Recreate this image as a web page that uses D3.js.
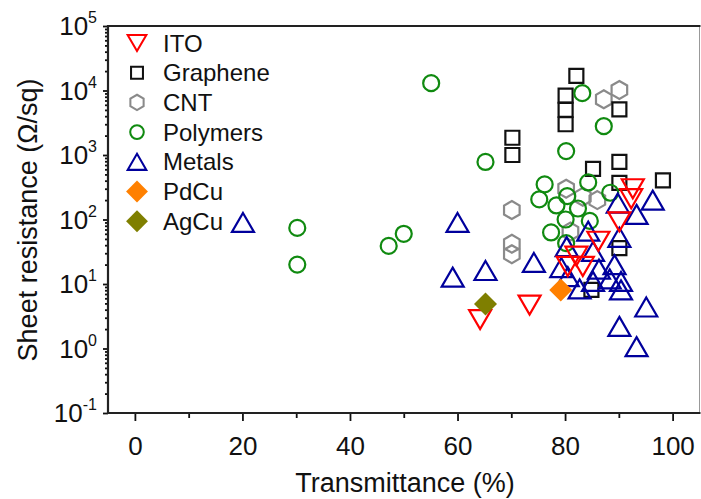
<!DOCTYPE html>
<html>
<head>
<meta charset="utf-8">
<style>
  body { margin: 0; background: #fff; }
  svg text { font-family: "Liberation Sans", Arial, sans-serif; fill: #111; }
</style>
<script src="https://d3js.org/d3.v7.min.js"></script>
</head>
<body>
<svg width="701" height="499"></svg>
<script>
// data: [transmittance %, sheet resistance ohm/sq]
var ito = [[64.2, 2.8], [73.4, 4.7], [80.5, 18.7], [82.1, 27], [83.3, 18.7], [86.2, 46],
           [90.1, 92], [92.3, 210], [92.6, 300]];
var graphene = [[82.1, 16900], [80.1, 8300], [80.1, 5000], [80.1, 3000], [90.1, 5100],
                [70.2, 1850], [70.2, 1000], [85.2, 610], [90.1, 780], [98.2, 405],
                [90.1, 370], [90.1, 36], [84.9, 8.1]];
var cnt = [[90.1, 10200], [87.2, 7300], [80.2, 300], [83.3, 225], [86.0, 200],
           [70.1, 140], [70.1, 42], [70.1, 29], [81.0, 65]];
var polymers = [[30.2, 74], [30.2, 20], [47.2, 39], [50.0, 60], [55.1, 13000], [65.2, 780],
                [83.2, 9100], [87.2, 2800], [80.2, 1150], [76.2, 350], [84.3, 375], [88.4, 260],
                [75.2, 205], [78.4, 165], [80.4, 230], [82.4, 148], [80.1, 100], [84.6, 95],
                [77.4, 63], [80.2, 43]];
var metals = [[20.1, 90], [60.0, 90], [59.1, 12.8], [65.2, 16.2], [74.2, 21.6], [79.3, 18],
              [80.5, 13], [80.3, 38], [84.3, 66], [85.2, 32], [82.7, 8.4], [85.2, 11],
              [86.3, 17], [88.3, 12], [89.2, 20], [90.4, 11], [90.4, 8.1], [90.1, 53],
              [89.8, 180], [93.3, 120], [96.3, 200], [95.1, 4.4], [90.1, 2.2], [93.3, 1.07]];
var pdcu = [[79.2, 8.1]];
var agcu = [[65.2, 4.9]];

var legendNames = ["ITO", "Graphene", "CNT", "Polymers", "Metals", "PdCu", "AgCu"];
var xTicks = [0, 20, 40, 60, 80, 100];
var yExps = [-1, 0, 1, 2, 3, 4, 5];

var svg = d3.select("svg");
var plotLeft = 108, plotRight = 699.5, plotTop = 26, plotBottom = 413;

var x = d3.scaleLinear().domain([-5, 105]).range([plotLeft, plotRight]);
var y = d3.scaleLog().domain([0.1, 1e5]).range([plotBottom, plotTop]);

// marker shapes, centred on 0,0
function shape(kind) {
  if (kind == "down") return "M-11,-9.5L11,-9.5L0,9.5Z";
  if (kind == "up") return "M0,-9.5L11,9.5L-11,9.5Z";
  if (kind == "square") return "M-7,-7H7V7H-7Z";
  if (kind == "diamond") return "M0,-11.5L11.5,0L0,11.5L-11.5,0Z";
  if (kind == "circle") return d3.symbol(d3.symbolCircle, Math.PI * 64)();
  if (kind == "hex") {
    var p = d3.range(6).map(function(k) {
      var a = (-90 + 60 * k) * Math.PI / 180;
      return [9 * Math.cos(a), 9 * Math.sin(a)];
    });
    return "M" + p.join("L") + "Z";
  }
}

var series = {
  ITO:      { data: ito,      kind: "down",    stroke: "#ff0000", fill: "none" },
  Graphene: { data: graphene, kind: "square",  stroke: "#111111", fill: "none" },
  CNT:      { data: cnt,      kind: "hex",     stroke: "#8a8a8a", fill: "none" },
  Polymers: { data: polymers, kind: "circle",  stroke: "#108a10", fill: "none" },
  Metals:   { data: metals,   kind: "up",      stroke: "#00009c", fill: "none" },
  PdCu:     { data: pdcu,     kind: "diamond", stroke: "none",    fill: "#ff8000" },
  AgCu:     { data: agcu,     kind: "diamond", stroke: "none",    fill: "#7f7f00" }
};

// axes
var xAxis = d3.axisBottom(x).tickValues(xTicks).tickSize(8).tickFormat(d3.format("d"));
var xMinor = d3.axisBottom(x).tickValues([10, 30, 50, 70, 90]).tickSize(5).tickFormat("");
var yMinorVals = [];
yExps.slice(0, -1).forEach(function(e) {
  for (var m = 2; m <= 9; m++) yMinorVals.push(m * Math.pow(10, e));
});
var yAxis = d3.axisLeft(y).tickValues(yExps.map(function(e) { return Math.pow(10, e); }))
  .tickSize(5).tickFormat("");
var yMinor = d3.axisLeft(y).tickValues(yMinorVals).tickSize(3).tickFormat("");

function styleAxis(g) {
  g.select(".domain").remove();
  g.selectAll("line").attr("stroke", "#111").attr("stroke-width", 1.8);
  g.selectAll("text").attr("font-size", 26).attr("fill", "#111")
    .attr("font-family", "Liberation Sans, Arial, sans-serif");
}

svg.append("g").attr("transform", "translate(0," + plotBottom + ")").call(xAxis).call(styleAxis)
  .selectAll("text").attr("dy", "1.2em");
svg.append("g").attr("transform", "translate(0," + plotBottom + ")").call(xMinor).call(styleAxis);
svg.append("g").attr("transform", "translate(" + plotLeft + ",0)").call(yAxis).call(styleAxis);
svg.append("g").attr("transform", "translate(" + plotLeft + ",0)").call(yMinor).call(styleAxis);

// frame
svg.append("line").attr("x1", plotRight).attr("x2", plotRight).attr("y1", plotTop).attr("y2", plotBottom)
  .attr("stroke", "#999").attr("stroke-width", 1);
svg.append("line").attr("x1", plotLeft).attr("x2", plotRight + 1).attr("y1", plotTop).attr("y2", plotTop)
  .attr("stroke", "#222").attr("stroke-width", 2.2);
svg.append("line").attr("x1", plotLeft).attr("x2", plotRight + 1).attr("y1", plotBottom).attr("y2", plotBottom)
  .attr("stroke", "#222").attr("stroke-width", 2.2);
svg.append("line").attr("x1", plotLeft).attr("x2", plotLeft).attr("y1", plotTop - 1).attr("y2", plotBottom + 1)
  .attr("stroke", "#222").attr("stroke-width", 2.2);

// y tick labels 10^n
yExps.forEach(function(e) {
  var t = svg.append("text").attr("x", 97).attr("y", y(Math.pow(10, e)) + 9)
    .attr("text-anchor", "end").attr("font-size", 26);
  t.append("tspan").text("10");
  t.append("tspan").attr("dy", -12).attr("font-size", 16).text(e);
});

// axis titles
svg.append("text").attr("x", 405).attr("y", 492).attr("text-anchor", "middle")
  .attr("font-size", 27).text("Transmittance (%)");
svg.append("text").attr("transform", "translate(37,220) rotate(-90)")
  .attr("text-anchor", "middle").attr("font-size", 27).text("Sheet resistance (Ω/sq)");

// points, drawn in this order so the overlaps look like the original
var drawOrder = ["CNT", "Graphene", "Polymers", "Metals", "ITO", "PdCu", "AgCu"];
drawOrder.forEach(function(name) {
  var s = series[name];
  svg.append("g").selectAll("path").data(s.data).enter().append("path")
    .attr("transform", function(d) { return "translate(" + x(d[0]) + "," + y(d[1]) + ")"; })
    .attr("d", shape(s.kind))
    .attr("fill", s.fill).attr("stroke", s.stroke).attr("stroke-width", 2.2);
});

// legend
var leg = svg.append("g").selectAll("g").data(legendNames).enter().append("g")
  .attr("transform", function(d, i) { return "translate(137," + (43 + i * 29.7) + ")"; });
leg.append("path")
  .attr("d", function(d) { return shape(series[d].kind); })
  .attr("transform", function(d) { return series[d].kind == "diamond" ? "scale(0.95)" : "scale(0.85)"; })
  .attr("fill", function(d) { return series[d].fill; })
  .attr("stroke", function(d) { return series[d].stroke; })
  .attr("stroke-width", 2.4);
leg.append("text").attr("x", 26).attr("y", 8.5).attr("font-size", 24)
  .text(function(d) { return d; });
</script>
</body>
</html>
